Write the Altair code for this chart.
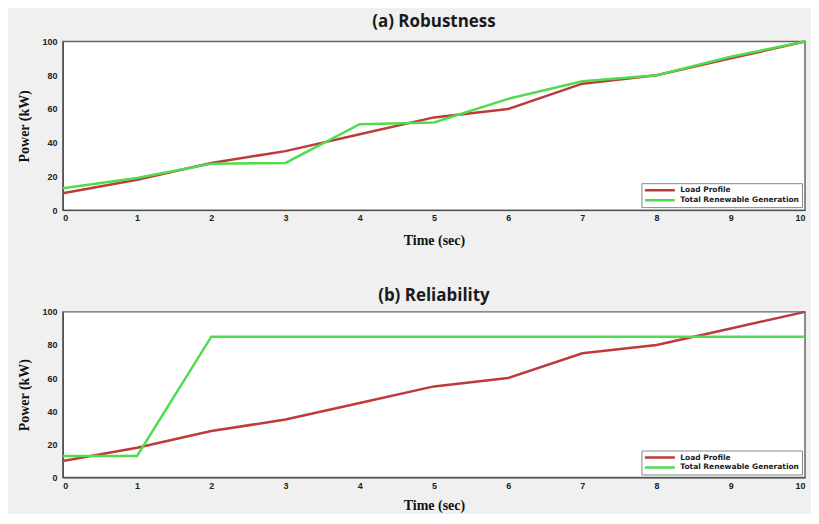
import altair as alt
import pandas as pd

time_sec = [0, 1, 2, 3, 4, 5, 6, 7, 8, 9, 10]
load_profile = [10, 18, 28, 35, 45, 55, 60, 75, 80, 90, 100]
renew_robust = [13, 19, 27.5, 28, 51, 52, 66, 76.5, 80, 91, 100]
renew_reliab = [13, 13, 85, 85, 85, 85, 85, 85, 85, 85, 85]

series_names = ["Load Profile", "Total Renewable Generation"]
series_colors = ["#bf3a3a", "#4fdc4f"]


def make_df(gen):
    rows = []
    for t, v in zip(time_sec, load_profile):
        rows.append({"t": t, "p": v, "s": series_names[0]})
    for t, v in zip(time_sec, gen):
        rows.append({"t": t, "p": v, "s": series_names[1]})
    return pd.DataFrame(rows)


def panel(df, title, w, h, title_offset, x_title_pad, x_label_pad):
    return alt.Chart(df).mark_line(strokeWidth=2.5).encode(
        x=alt.X("t:Q", scale=alt.Scale(domain=[0, 10], nice=False),
                axis=alt.Axis(title="Time (sec)", values=time_sec, ticks=False,
                              labelPadding=x_label_pad, titlePadding=x_title_pad, labelFlush=True,
                              labelFontSize=9, labelFont="Liberation Sans", labelFontWeight="bold",
                              labelColor="#222", titleFont="Liberation Serif", titleFontSize=14,
                              titleFontWeight="bold", titleColor="#111", domainColor="#444",
                              grid=False)),
        y=alt.Y("p:Q", scale=alt.Scale(domain=[0, 100], nice=False),
                axis=alt.Axis(title="Power (kW)", values=[0, 20, 40, 60, 80, 100], ticks=False,
                              labelPadding=6, titlePadding=10,
                              labelFontSize=9, labelFont="Liberation Sans", labelFontWeight="bold",
                              labelColor="#222", titleFont="Liberation Serif", titleFontSize=14,
                              titleFontWeight="bold", titleColor="#111", domainColor="#444",
                              grid=False)),
        color=alt.Color("s:N", scale=alt.Scale(domain=series_names, range=series_colors),
                        legend=alt.Legend(title=None, orient="bottom-right", offset=3,
                                          fillColor="white", strokeColor="#888", padding=2,
                                          symbolType="stroke", symbolStrokeWidth=2.5,
                                          symbolSize=900, clipHeight=10, labelFontSize=7.5,
                                          labelFont="DejaVu Sans", labelFontWeight="bold",
                                          labelColor="#222", rowPadding=0, cornerRadius=0)),
    ).properties(
        width=w, height=h,
        title=alt.TitleParams(title, fontSize=17, font="Open Sans", fontWeight="bold",
                              color="#1a1a1a", offset=title_offset),
    )


top = panel(make_df(renew_robust), "(a) Robustness", 744, 169, 6, 11, 3)
bottom = panel(make_df(renew_reliab), "(b) Reliability", 744, 166, 2, 8, 4)

chart = alt.vconcat(top, bottom, spacing=38, background="#f0f0f0",
                    padding={"left": 9, "top": 3, "right": 0, "bottom": 0}).resolve_scale(
    color="independent"
).configure_view(fill="white", stroke="#666", strokeWidth=1.5)

chart.save("out.html", embed_options={"renderer": "svg", "actions": False})
